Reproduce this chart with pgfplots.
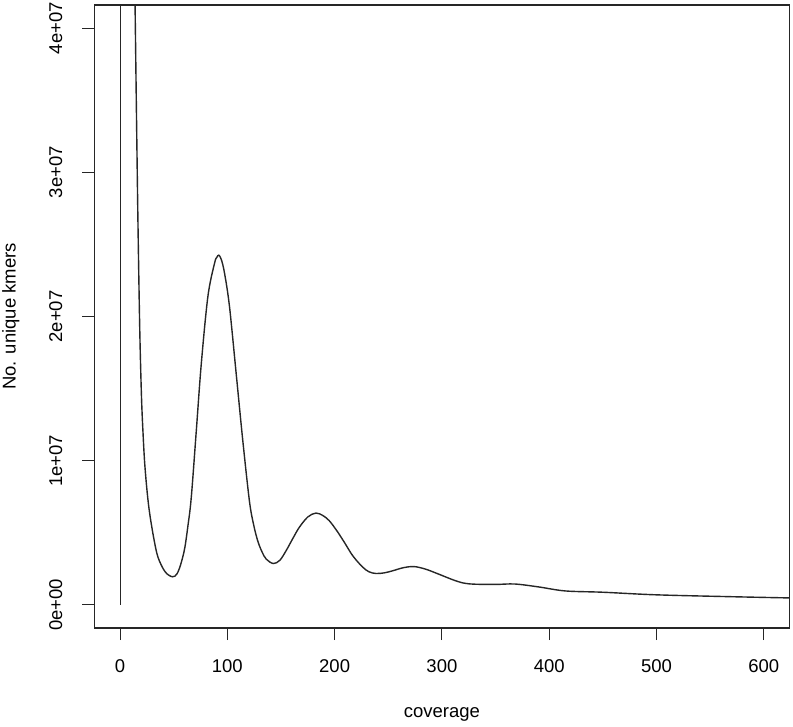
\documentclass[border=0pt]{standalone}
\usepackage{pgfplots}
\pgfplotsset{compat=1.18}
\usepackage{fontspec}
\setmainfont{Liberation Sans}
\begin{document}
\fontsize{18.5bp}{22bp}\selectfont
\begin{tikzpicture}
\path[use as bounding box] (0,0) rectangle (793bp,727bp);
\begin{axis}[
  at={(94.3bp,99bp)}, anchor=south west,
  scale only axis, width=695.2bp, height=623bp,
  xmin=-24, xmax=624, ymin=-1.6, ymax=41.6,
  xtick={0,100,200,300,400,500,600},
  ytick={0,10,20,30,40},
  yticklabels={0e+00,1e+07,2e+07,3e+07,4e+07},
  xtick pos=left, ytick pos=left,
  tick align=outside, major tick length=12bp,
  every tick/.style={black!85, line width=1bp},
  axis line style={black!85, line width=1.2bp},
  /pgf/number format/assume math mode=true,
  tick label style={font=\fontsize{18.5bp}{22bp}\selectfont},
  xticklabel style={anchor=center, yshift=-26bp},
  yticklabel style={rotate=90, anchor=center, yshift=26.5bp},
  xlabel={coverage}, ylabel={No. unique kmers},
  label style={font=\fontsize{18.5bp}{22bp}\selectfont},
  xlabel style={at={(axis description cs:0.5,-0.138)}, anchor=center},
  ylabel style={at={(axis description cs:-0.1201,0.5)}, anchor=center, rotate=0},
  clip=true,
]
\addplot[black!85, line width=1.4bp] coordinates {(0.4,0) (0.4,50)};
\addplot[black!85, line width=1.4bp, smooth, tension=0.55] coordinates {
(13.0,47) (14.0,41.6) (15.4,33.5) (16.8,26.0) (18.4,19.0) (20.0,14.4) (21.5,11.8) (23.0,9.8)
(25.3,7.8) (27.7,6.3) (31.5,4.6) (35.4,3.3) (42,2.3) (48.8,1.95) (53,2.15) (56.5,2.8)
(60.2,3.9) (63.3,5.5) (66.4,7.46) (71.1,12.1)
(75.7,16.7) (81.9,21.4) (88.1,23.7) (90.2,24.1) (92.0,24.25) (94.4,23.95) (97.4,23.0) (102.0,20.7)
(108.3,16.0) (114.4,11.4) (120.6,7.2) (124.4,5.6) (128.3,4.45) (132.2,3.7) (136.2,3.18) (142.9,2.87)
(149,3.1) (154.7,3.75) (161,4.6) (167.0,5.37) (175,6.1) (182.6,6.37) (189,6.2) (195.0,5.84)
(202,5.15) (209,4.35) (217,3.4) (225.9,2.64) (232,2.3)
(238.4,2.18) (246,2.22) (253.8,2.36) (264,2.58) (274.0,2.66) (284.8,2.48) (297.2,2.13) (310,1.75)
(320,1.52) (330,1.44) (350,1.42) (368,1.45) (390,1.25) (415,0.97) (450,0.88)
(500,0.70) (570,0.57) (621,0.49) (640,0.47)
};
\end{axis}
\end{tikzpicture}
\end{document}
